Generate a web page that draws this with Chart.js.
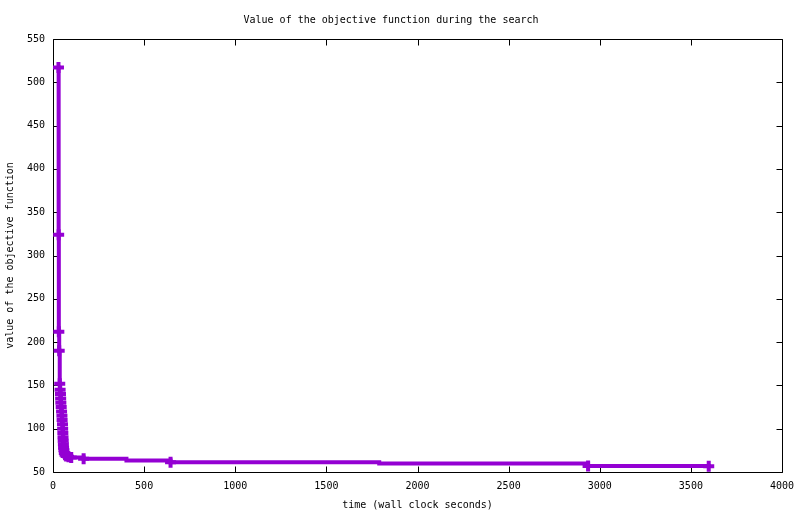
<!DOCTYPE html>
<html><head><meta charset="utf-8">
<script src="https://cdn.jsdelivr.net/npm/chart.js@4"></script>
<style>html,body{margin:0;padding:0;background:#fff;}canvas{display:block}</style>
</head><body>
<canvas id="c" width="800" height="514"></canvas>
<script>
// wall clock seconds
const times = [30,31,32,34,37,39,41,42,43,45,47,49,50,52,53,54,55,56,57,58,60,62,66,72,85,100,168,403,645,1790,2936,3598];
// objective function value
const values = [517,324,212,190,152,145,140,135,130,125,120,115,110,105,100,95,90,86,82,78,75,72,70,68.5,67.5,66.8,65.4,63.4,61.3,59.8,56.9,56.6];
// points drawn without a marker
const unmarkedTimes = [403,1790];
const xTickValues = [0,500,1000,1500,2000,2500,3000,3500,4000];
const yTickValues = [50,100,150,200,250,300,350,400,450,500,550];

const chartTitle = 'Value of the objective function during the search';
const xTitle = 'time (wall clock seconds)';
const yTitle = 'value of the objective function';

Chart.defaults.font.family = "'DejaVu Sans Mono', monospace";
Chart.defaults.font.size = 10;
Chart.defaults.color = '#000';

const points = times.map((t,i)=>({x:t, y:values[i]}));

const frame = {
  id:'frame',
  beforeDraw(chart){
    const c=chart.ctx; c.save(); c.fillStyle='#fff'; c.fillRect(0,0,chart.width,chart.height); c.restore();
  },
  beforeDatasetsDraw(chart){
    const {ctx, chartArea:a, scales:{x,y}} = chart;
    const L=Math.round(a.left)+0.5, R=Math.round(a.right)+0.5, T=Math.round(a.top)+0.5, B=Math.round(a.bottom)+0.5;
    const len=6;
    ctx.save(); ctx.strokeStyle='#000'; ctx.lineWidth=1;
    ctx.beginPath();
    ctx.rect(L,T,R-L,B-T);
    x.ticks.forEach(t=>{
      const px=Math.round(x.getPixelForValue(t.value))+0.5;
      ctx.moveTo(px,B); ctx.lineTo(px,B-len);
      ctx.moveTo(px,T); ctx.lineTo(px,T+len);
    });
    y.ticks.forEach(t=>{
      const py=Math.round(y.getPixelForValue(t.value))+0.5;
      ctx.moveTo(L,py); ctx.lineTo(L+len,py);
      ctx.moveTo(R,py); ctx.lineTo(R-len,py);
    });
    ctx.stroke(); ctx.restore();
  }
};

new Chart(document.getElementById('c'), {
  type:'line',
  data:{datasets:[{
    data: points,
    borderColor:'#9400D3',
    backgroundColor:'#9400D3',
    borderWidth:4,
    stepped:'before',
    fill:false,
    pointStyle:'cross',
    pointRadius: ctx => (ctx.raw && unmarkedTimes.includes(ctx.raw.x)) ? 0 : 5.5,
    pointBorderWidth:4,
    pointBorderColor:'#9400D3',
    pointHoverRadius:5.5
  }]},
  options:{
    responsive:false,
    devicePixelRatio:1,
    animation:false,
    layout:{padding:{left:0,right:18,top:0,bottom:0}},
    plugins:{
      legend:{display:false},
      tooltip:{enabled:false},
      title:{display:true, text:chartTitle, font:{size:10, weight:'normal'}, color:'#000', padding:{top:14,bottom:13}}
    },
    scales:{
      x:{
        type:'linear', min:0, max:4000,
        afterBuildTicks: s => { s.ticks = xTickValues.map(v=>({value:v})); },
        afterFit: s => { s.height = 42; s.paddingLeft = 0; s.paddingRight = 0; },
        grid:{display:false, drawTicks:false},
        border:{display:false},
        ticks:{padding:8, maxRotation:0, autoSkip:false, color:'#000', font:{size:10}, callback: v => String(v)},
        title:{display:true, text:xTitle, color:'#000', font:{size:10}, padding:{top:0,bottom:3}}
      },
      y:{
        type:'linear', min:50, max:550,
        afterBuildTicks: s => { s.ticks = yTickValues.map(v=>({value:v})); },
        afterFit: s => { s.width = 53; s.paddingTop = 0; s.paddingBottom = 0; },
        grid:{display:false, drawTicks:false},
        border:{display:false},
        ticks:{padding:8, autoSkip:false, color:'#000', font:{size:10}, callback: v => String(v)},
        title:{display:true, text:yTitle, color:'#000', font:{size:10}, padding:{top:4,bottom:0}}
      }
    }
  },
  plugins:[frame]
});
</script>
</body></html>
